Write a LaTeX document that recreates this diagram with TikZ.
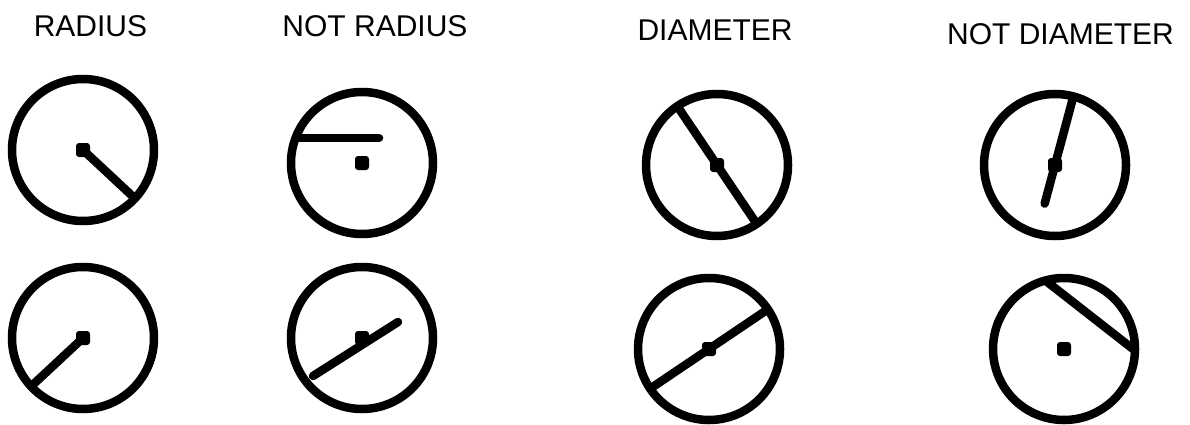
\documentclass[tikz,border=0pt]{standalone}
\usepackage{fontspec}
\setmainfont{Liberation Sans}
\usetikzlibrary{calc}
\tikzset{
  ring/.style={draw=black,line width=8.5pt},
  seg/.style={draw=black,line width=8.5pt,line cap=round},
  dot/.style={rectangle,fill=black,rounded corners=3pt,minimum size=14pt,inner sep=0pt},
  ttl/.style={anchor=base,font=\fontsize{30}{36}\selectfont,inner sep=0pt},
}
\begin{document}
\begin{tikzpicture}[x=1pt,y=1pt]
\useasboundingbox (0,0) rectangle (1190,424);
% titles
\node[ttl] (tr) at (90.5,387) {RADIUS};
\node[ttl] (tnr) at (375,387) {NOT RADIUS};
\node[ttl] (td) at (715,383) {DIAMETER};
\node[ttl] (tnd) at (1060.5,379) {NOT DIAMETER};
% circles with centre dots
\foreach \n/\x/\y in {r1/83/274,r2/83/86,n1/362/261,n2/362/86,d1/717/259,d2/709/75,m1/1055/259,m2/1064/75}{
  \coordinate (\n) at (\x,\y);
  \draw[ring] (\n) circle (71);
  \node[dot] (\n dot) at (\n) {};}
% RADIUS
\draw[seg] (r1) -- ($(r1)+(-43:69)$);
\draw[seg] (r2) -- ($(r2)+(223:69)$);
% NOT RADIUS
\draw[seg] ($(n1)+(-64,25)$) -- ($(n1)+(17,25)$);
\draw[seg] ($(n2)+(-49,-38)$) -- ($(n2)+(36,16)$);
% DIAMETER
\draw[seg] ($(d1)+(124:69)$) -- ($(d1)+(-56:69)$);
\draw[seg] ($(d2)+(214:69)$) -- ($(d2)+(34:69)$);
% NOT DIAMETER
\draw[seg] ($(m1)+(75:69)$) -- ($(m1)+(255:40)$);
\draw[seg] ($(m2)+(104:69)$) -- ($(m2)+(0:69)$);
\end{tikzpicture}
\end{document}
